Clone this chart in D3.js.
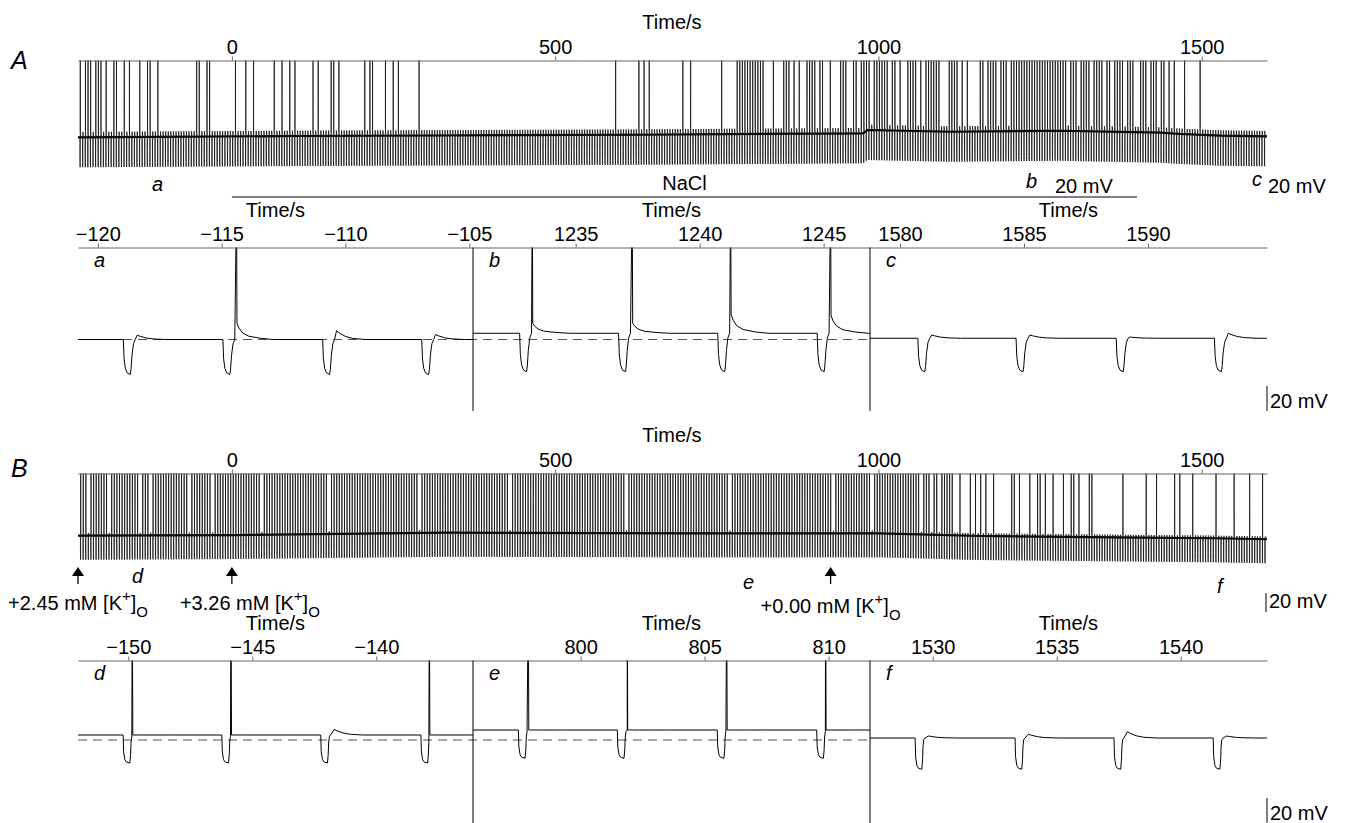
<!DOCTYPE html>
<html>
<head>
<meta charset="utf-8">
<script src="https://cdn.jsdelivr.net/npm/d3@7"></script>
<style>
  body { margin: 0; background: #fff; }
  svg text { font-family: "Liberation Sans", Arial, sans-serif; font-size: 20px; fill: #000; }
  .it { font-style: italic; }
  svg text.big { font-size: 25px; }
</style>
</head>
<body>
<svg width="1345" height="823"></svg>
<script>
// ---- overview recordings (A: NaCl, B: K+ additions) ----
const overviewDomain = [-238, 1601];
const overviewTicks = [0, 500, 1000, 1500];
const stimPeriod = 4.0;              // hyperpolarising pulse every 4 s
const pulsePhaseA = -118.75;         // centre of a pulse in A
const pulsePhaseB = -150.01;         // centre of a pulse in B

const baseTimesA = [-238, 105, 322, 631, 976, 983, 1111, 1281, 1436, 1467, 1529, 1601];
const baseMvA    = [0, 1.2, 1.7, 2.4, 3.7, 6.8, 5.2, 6.1, 4.3, 3.1, 1.5, 0.9];
const baseTimesB = [-238, 2, 333, 724, 1003, 1157, 1363, 1518, 1601];
const baseMvB    = [0, 0.6, 2.8, 2.2, 2.2, -0.3, -1.5, -2.4, -3.3];

const spikesA = [-235, -228, -224, -220, -211, -208, -204, -201, -195, -182, -178, -167, -158, -142,
  -130, -126, -114.4, -55, -51, -38, -34, 6, 23, 34, 65, 78, 90, 98, 126, 134, 154, 157, 159, 165,
  207, 215, 218, 238, 250, 256, 289, 594, 630, 638, 645, 698, 710, 759, 783, 786, 789, 792, 795, 798,
  802, 804, 808, 812, 815, 818, 821, 839, 853, 857, 862, 868, 871, 876, 889, 893, 899, 903, 910, 915,
  925, 941, 946, 950, 961, 967, 972, 977, 982, 985, 992, 998, 1002, 1005, 1008, 1014, 1021, 1026, 1034,
  1046, 1051, 1054, 1059, 1067, 1072, 1076, 1080, 1085, 1090, 1094, 1111, 1115, 1119, 1122, 1129, 1139,
  1157, 1163, 1168, 1173, 1179, 1183, 1189, 1195, 1199, 1204, 1209, 1214, 1218, 1222, 1225, 1229, 1233,
  1237, 1241, 1245, 1249, 1253, 1257, 1261, 1265, 1268, 1272, 1276, 1280, 1284, 1287, 1291, 1296, 1299,
  1303, 1307, 1312, 1317, 1322, 1327, 1333, 1338, 1343, 1347, 1353, 1359, 1364, 1369, 1374, 1379, 1384,
  1389, 1395, 1405, 1410, 1415, 1420, 1426, 1431, 1436, 1441, 1451, 1457, 1474, 1498];

const firingRunsB = [[-238, 1058]];   // a spike after every pulse ...
const missedB = [-222, -190, -142, -126, -66, -30, 46, 150, 290, 430, 610, 770, 930, 990]; // ... except these
const spikesB = [1062, 1070, 1075, 1080, 1085, 1091, 1098, 1102, 1106, 1111, 1114.5, 1126.4, 1143,
  1148.6, 1160, 1166.6, 1179, 1206.3, 1209, 1216.7, 1234.7, 1247.6, 1250.2, 1259, 1270.8, 1285.3,
  1299.2, 1301.8, 1311.1, 1326.5, 1330.1, 1379.1, 1414.2, 1430.7, 1458, 1465.8, 1486.4, 1522.5,
  1550.9, 1574.1, 1594.2];

const nacl = [0, 1400];
const kTimes = [-238, 0, 926];
const kLabels = ["+2.45 mM", "+3.26 mM", "+0.00 mM"];

// ---- expanded segments ----
const detailLabelsA = ["a", "b", "c"];
const detailDomainsA = [[-120.8, -104.85], [1230.86, 1246.87], [1578.79, 1594.8]];
const detailTicksA = [[-120, -115, -110, -105], [1235, 1240, 1245], [1580, 1585, 1590]];
const detailPulsesA = [[-118.75, -114.73, -110.70, -106.70], [1232.96, 1236.95, 1240.95, 1244.96], [1580.94, 1584.90, 1588.94, 1592.90]];
const detailSpikesA = [[-114.40], [1233.25, 1237.28, 1241.25, 1245.28], []];
const detailAdpA = [[13], [8, 8, 15, 14], []];
const detailBumpsA = [[3.5, 0, 7, 4], [0, 0, 0, 0], [2.6, 2.6, 1, 4]];
const detailBaseA = [0, 5, 1];
const detailDepthA = [28, 30.8, 26.8];

const detailLabelsB = ["d", "e", "f"];
const detailDomainsB = [[-152.03, -136.1], [795.66, 811.67], [1527.47, 1543.48]];
const detailTicksB = [[-150, -145, -140], [800, 805, 810], [1530, 1535, 1540]];
const detailPulsesB = [[-150.01, -146.03, -142.04, -138.0], [797.69, 801.68, 805.71, 809.72], [1529.49, 1533.52, 1537.51, 1541.51]];
const detailSpikesB = [[-149.84, -145.86, -137.86], [797.89, 801.88, 805.89, 809.88], []];
const detailAdpB = [[0, 0, 0], [0, 0, 0, 0], []];
const detailBumpsB = [[0, 0, 4.5, 0], [0, 0, 0, 0], [1.6, 3, 5, 1.6]];
const detailBaseB = [4, 8, 1.6];
const detailDepthB = [22.4, 22.6, 25];

// waveform templates (time from pulse centre, fraction of depth)
const pulseShapeA = [[-0.22, 0], [-0.19, 0.55], [-0.14, 0.82], [-0.07, 0.95], [0.06, 1], [0.09, 0.85], [0.13, 0.45], [0.19, 0.12], [0.26, 0]];
const pulseShapeB = [[-0.2, 0], [-0.18, 0.6], [-0.13, 0.88], [-0.06, 0.97], [0.07, 1], [0.1, 0.7], [0.12, 0.25], [0.15, 0.05], [0.2, 0]];
const bumpShape = [[0.34, 1], [0.45, 0.75], [0.7, 0.35], [1.0, 0.12], [1.5, 0]];
const adpShape = [[0.02, 1], [0.1, 0.7], [0.25, 0.4], [0.5, 0.2], [1.0, 0.07], [1.5, 0]];
const spikePeak = 110;

const svg = d3.select("svg");
const defs = svg.append("defs");
let clipN = 0;
function clip(x0, y0, x1, y1) {
  const id = "clip" + (clipN++);
  defs.append("clipPath").attr("id", id).append("rect")
    .attr("x", x0).attr("y", y0).attr("width", x1 - x0).attr("height", y1 - y0);
  return id;
}

function buildTrace(domain, pulses, spikes, adpOf, bumpOf, base, depth, shape) {
  const pts = [[domain[0], base(domain[0])]];
  pulses.forEach((c, i) => {
    const si = spikes.findIndex(s => s > c && s - c < 1);
    const cut = si >= 0 ? spikes[si] - c : Infinity;
    shape.filter(p => p[0] < cut).forEach(([dt, f]) => pts.push([c + dt, base(c + dt) - f * depth]));
    if (si >= 0) {
      const ts = spikes[si], a = adpOf(si);
      pts.push([ts, base(ts) + spikePeak]);
      adpShape.forEach(([dt, f]) => pts.push([ts + dt, base(ts + dt) + f * a]));
    } else if (bumpOf(i)) {
      bumpShape.forEach(([dt, f]) => pts.push([c + dt, base(c + dt) + f * bumpOf(i)]));
    }
  });
  pts.push([domain[1], base(domain[1])]);
  return pts.filter(p => p[0] >= domain[0] && p[0] <= domain[1]).sort((p, q) => p[0] - q[0]);
}

function topAxis(x, ticks, axisY) {
  const g = svg.append("g").attr("transform", `translate(0,${axisY})`)
    .call(d3.axisTop(x).tickValues(ticks).tickSize(4).tickSizeOuter(0).tickPadding(3).tickFormat(d3.format("d")));
  g.select(".domain").attr("stroke", "#666");
  g.selectAll(".tick line").attr("stroke", "#666");
  g.selectAll(".tick text").attr("fill", "#000");
}

function drawOverview(axisY, zeroY, baseTimes, baseMv, phase, lag, depth, spikeTimes, adp, bump, shape) {
  const x = d3.scaleLinear().domain(overviewDomain).range([78, 1267]);
  const y = d3.scaleLinear().domain([0, -28]).range([zeroY, zeroY + 30]);
  const base = d3.scaleLinear().domain(baseTimes).range(baseMv).clamp(true);
  const pulses = [];
  for (let k = Math.ceil((overviewDomain[0] + 0.3 - phase) / stimPeriod); phase + k * stimPeriod < overviewDomain[1] - 0.3; k++)
    pulses.push(phase + k * stimPeriod);
  const snapped = spikeTimes.map(s => phase + Math.round((s - lag - phase) / stimPeriod) * stimPeriod + lag);
  const pts = buildTrace(overviewDomain, pulses, snapped, () => adp, () => bump, base, depth, shape);
  const id = clip(78, axisY, 1267, axisY + 140);
  const line = d3.line().x(d => x(d[0])).y(d => y(d[1]));
  svg.append("path").attr("clip-path", `url(#${id})`)
    .attr("d", line(baseTimes.map((t, i) => [t, baseMv[i]])))
    .attr("fill", "none").attr("stroke", "#000").attr("stroke-width", 2.2);
  svg.append("path").attr("clip-path", `url(#${id})`).attr("d", line(pts))
    .attr("fill", "none").attr("stroke", "#111").attr("stroke-width", 0.8);
  topAxis(x, overviewTicks, axisY);
  svg.append("text").attr("x", 672).attr("y", axisY - 32).attr("text-anchor", "middle").text("Time/s");
  return x;
}

function drawDetails(axisY, dashY, bottom, labels, domains, ticks, pulses, spikes, adps, bumps, bases, depths, shape, dashed) {
  const ranges = [[78, 473], [473, 870], [870, 1267]];
  const y = d3.scaleLinear().domain([0, -28]).range([dashY, dashY + 35]);
  const dashLen = dashed.filter(Boolean).length;
  svg.append("line").attr("x1", 78).attr("x2", ranges[dashLen - 1][1]).attr("y1", dashY).attr("y2", dashY)
    .attr("stroke", "#555").attr("stroke-dasharray", "9,6").attr("stroke-width", 1);
  domains.forEach((dom, p) => {
    const x = d3.scaleLinear().domain(dom).range(ranges[p]);
    const base = () => bases[p];
    const pts = buildTrace(dom, pulses[p], spikes[p], i => adps[p][i], i => bumps[p][i], base, depths[p], shape);
    const id = clip(ranges[p][0], axisY, ranges[p][1], bottom);
    svg.append("path").attr("clip-path", `url(#${id})`)
      .attr("d", d3.line().x(d => x(d[0])).y(d => y(d[1]))(pts))
      .attr("fill", "none").attr("stroke", "#000").attr("stroke-width", 1);
    topAxis(x, ticks[p], axisY);
    svg.append("text").attr("x", (ranges[p][0] + ranges[p][1]) / 2).attr("y", axisY - 31)
      .attr("text-anchor", "middle").text("Time/s");
    svg.append("text").attr("class", "it").attr("x", ranges[p][0] + 16).attr("y", axisY + 19).text(labels[p]);
  });
  [473, 870].forEach(sx => svg.append("line").attr("x1", sx).attr("x2", sx)
    .attr("y1", axisY).attr("y2", bottom).attr("stroke", "#000").attr("stroke-width", 1));
  scaleBar(1267, bottom - 25, bottom, bottom - 3);
}

function scaleBar(x, y0, y1, textY) {
  svg.append("line").attr("x1", x).attr("x2", x).attr("y1", y0).attr("y2", y1).attr("stroke", "#000");
  svg.append("text").attr("x", x + 3).attr("y", textY).text("20 mV");
}

// ---- panel A ----
svg.append("text").attr("class", "it big").attr("x", 11).attr("y", 69).text("A");
const xA = drawOverview(60.5, 137.3, baseTimesA, baseMvA, pulsePhaseA, 0.3, 28, spikesA, 6, 5, pulseShapeA);
svg.append("line").attr("x1", xA(nacl[0])).attr("x2", 1137).attr("y1", 197).attr("y2", 197).attr("stroke", "#000");
svg.append("text").attr("x", (xA(nacl[0]) + 1137) / 2).attr("y", 190).attr("text-anchor", "middle").text("NaCl");
svg.append("text").attr("class", "it").attr("x", 152).attr("y", 191).text("a");
svg.append("text").attr("class", "it").attr("x", 1026).attr("y", 188).text("b");
svg.append("text").attr("x", 1055).attr("y", 193).text("20 mV");
svg.append("text").attr("class", "it").attr("x", 1252).attr("y", 186).text("c");
svg.append("text").attr("x", 1268).attr("y", 193).text("20 mV");

drawDetails(247.5, 339.5, 411, detailLabelsA, detailDomainsA, detailTicksA, detailPulsesA, detailSpikesA,
  detailAdpA, detailBumpsA, detailBaseA, detailDepthA, pulseShapeA, [true, true, false]);

// ---- panel B ----
svg.append("text").attr("class", "it big").attr("x", 11).attr("y", 477).text("B");
const firingB = [];
firingRunsB.forEach(([t0, t1]) => {
  for (let c = pulsePhaseB + Math.ceil((t0 - pulsePhaseB) / stimPeriod) * stimPeriod; c <= t1; c += stimPeriod)
    if (!missedB.some(m => Math.abs(m - c) < stimPeriod / 2)) firingB.push(c + 0.17);
});
const xB = drawOverview(473.5, 535.7, baseTimesB, baseMvB, pulsePhaseB, 0.17, 22.4, firingB.concat(spikesB), 2, 2.5, pulseShapeB);

kTimes.forEach((t, i) => {
  const ax = Math.max(xB(t), 78);
  svg.append("path").attr("d", `M${ax},567 L${ax - 6},576 L${ax + 6},576 Z`).attr("fill", "#000");
  svg.append("line").attr("x1", ax).attr("x2", ax).attr("y1", 575).attr("y2", 584).attr("stroke", "#000").attr("stroke-width", 1.3);
  const shift = i === 1 ? 18 : 0;
  const txt = svg.append("text").attr("x", ax + shift).attr("y", i === 2 ? 613 : 610).attr("text-anchor", "middle");
  txt.append("tspan").text(kLabels[i] + " [K");
  txt.append("tspan").attr("dy", -9).attr("font-size", 15).text("+");
  txt.append("tspan").attr("dy", 9).text("]");
  txt.append("tspan").attr("dy", 7).attr("font-size", 15).text("O");
});
svg.append("text").attr("class", "it").attr("x", 132).attr("y", 583).text("d");
svg.append("text").attr("class", "it").attr("x", 743).attr("y", 589).text("e");
svg.append("text").attr("class", "it").attr("x", 1217).attr("y", 593).text("f");
scaleBar(1266, 593, 612, 608);

drawDetails(660.5, 740, 823, detailLabelsB, detailDomainsB, detailTicksB, detailPulsesB, detailSpikesB,
  detailAdpB, detailBumpsB, detailBaseB, detailDepthB, pulseShapeB, [true, true, false]);
</script>
</body>
</html>
